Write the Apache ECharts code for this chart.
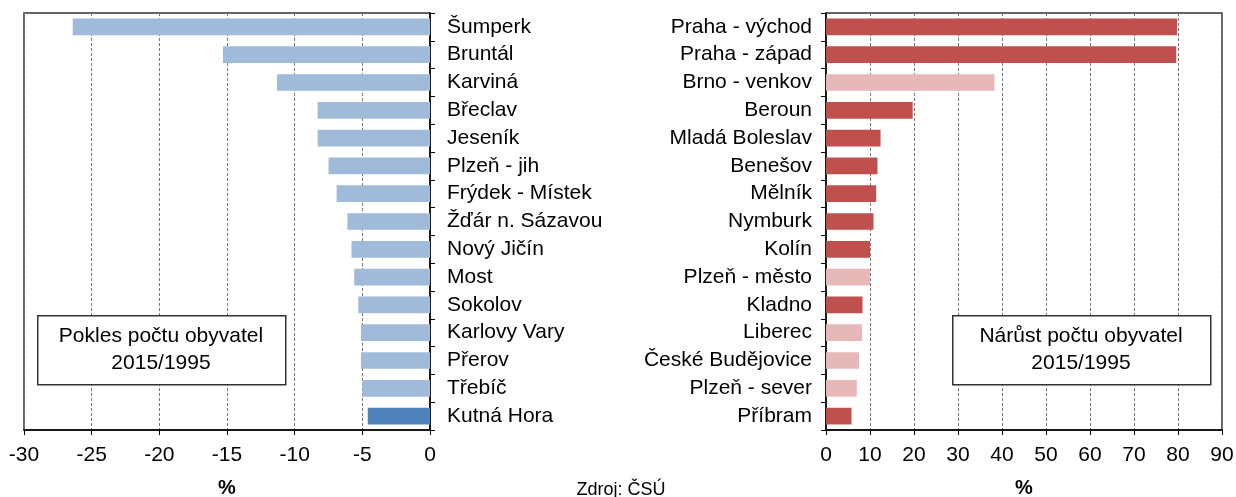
<!DOCTYPE html>
<html>
<head>
<meta charset="utf-8">
<script src="https://cdn.jsdelivr.net/npm/echarts@6/dist/echarts.min.js"></script>
<style>
html, body { margin: 0; padding: 0; background: #fff; }
#main { width: 1236px; height: 497px; }
</style>
</head>
<body>
<div id="main"></div>
<script>
// pokles (levý graf)
var leftNames = ['Šumperk', 'Bruntál', 'Karviná', 'Břeclav', 'Jeseník', 'Plzeň - jih', 'Frýdek - Místek',
	'Žďár n. Sázavou', 'Nový Jičín', 'Most', 'Sokolov', 'Karlovy Vary', 'Přerov', 'Třebíč', 'Kutná Hora'];
var leftValues = [-26.4, -15.3, -11.3, -8.3, -8.3, -7.5, -6.9, -6.1, -5.8, -5.6, -5.3, -5.1, -5.1, -5.0, -4.6];
var leftDark = [0, 0, 0, 0, 0, 0, 0, 0, 0, 0, 0, 0, 0, 0, 1];

// nárůst (pravý graf)
var rightNames = ['Praha - východ', 'Praha - západ', 'Brno - venkov', 'Beroun', 'Mladá Boleslav', 'Benešov', 'Mělník',
	'Nymburk', 'Kolín', 'Plzeň - město', 'Kladno', 'Liberec', 'České Budějovice', 'Plzeň - sever', 'Příbram'];
var rightValues = [79.8, 79.6, 38.3, 19.7, 12.4, 11.7, 11.4, 10.8, 10.0, 10.0, 8.3, 8.2, 7.5, 7.0, 5.8];
var rightLight = [0, 0, 1, 0, 0, 0, 0, 0, 0, 1, 0, 1, 1, 1, 0];

var font = 'Liberation Sans, Arial, sans-serif';

var leftData = [];
for (var i in leftValues) {
	leftData.push({ value: leftValues[i], itemStyle: { color: leftDark[i] ? '#4F81BD' : '#A0BAD9' } });
}
var rightData = [];
for (var j in rightValues) {
	rightData.push({ value: rightValues[j], itemStyle: { color: rightLight[j] ? '#E6B9B8' : '#C0504D' } });
}

function valueAxis(idx, min, max, step) {
	return {
		type: 'value', gridIndex: idx, min: min, max: max, interval: step,
		axisLine: { show: true, lineStyle: { color: '#000', width: 1.5 } },
		axisTick: { show: true, length: 5, lineStyle: { color: '#000' } },
		splitLine: { show: true, lineStyle: { color: '#777', type: [3, 2], width: 1 } },
		axisLabel: { color: '#000', fontSize: 21, fontFamily: font, margin: 15 },
		name: '%', nameLocation: 'middle', nameGap: 48,
		nameTextStyle: { color: '#000', fontSize: 20, fontWeight: 'bold', fontFamily: font }
	};
}

function catAxis(idx, names, pos, margin) {
	return {
		type: 'category', gridIndex: idx, data: names, inverse: true, position: pos,
		axisLine: { show: true, lineStyle: { color: '#000', width: 1.5 } },
		axisTick: { show: true, length: 5, lineStyle: { color: '#000' } },
		axisLabel: { color: '#000', fontSize: 21, fontFamily: font, margin: margin, interval: 0 },
		splitLine: { show: false }
	};
}

var myChart = echarts.init(document.getElementById('main'));
myChart.setOption({
	animation: false,
	grid: [
		{ left: 24, width: 406, top: 13, bottom: 67, show: true, borderColor: '#333', borderWidth: 1.5,
		  outerBoundsMode: 'none', containLabel: false },
		{ left: 826, right: 14, top: 13, bottom: 67, show: true, borderColor: '#333', borderWidth: 1.5,
		  outerBoundsMode: 'none', containLabel: false }
	],
	xAxis: [valueAxis(0, -30, 0, 5), valueAxis(1, 0, 90, 10)],
	yAxis: [catAxis(0, leftNames, 'right', 17), catAxis(1, rightNames, 'left', 14)],
	series: [
		{ type: 'bar', xAxisIndex: 0, yAxisIndex: 0, data: leftData, barCategoryGap: '40%' },
		{ type: 'bar', xAxisIndex: 1, yAxisIndex: 1, data: rightData, barCategoryGap: '40%' }
	],
	graphic: [
		{ type: 'rect', left: 37, top: 315, shape: { width: 248, height: 69 },
		  style: { fill: '#fff', stroke: '#333', lineWidth: 1.5 }, z: 10 },
		{ type: 'text', x: 161, y: 350, z: 11,
		  style: { text: 'Pokles počtu obyvatel\n2015/1995', fill: '#000', font: '21px ' + font,
			align: 'center', verticalAlign: 'middle', lineHeight: 27 } },
		{ type: 'rect', left: 952, top: 315, shape: { width: 258, height: 69 },
		  style: { fill: '#fff', stroke: '#333', lineWidth: 1.5 }, z: 10 },
		{ type: 'text', x: 1081, y: 350, z: 11,
		  style: { text: 'Nárůst počtu obyvatel\n2015/1995', fill: '#000', font: '21px ' + font,
			align: 'center', verticalAlign: 'middle', lineHeight: 27 } },
		{ type: 'text', x: 621, y: 490, z: 11,
		  style: { text: 'Zdroj: ČSÚ', fill: '#000', font: '18px ' + font,
			align: 'center', verticalAlign: 'middle' } }
	]
});
</script>
</body>
</html>
